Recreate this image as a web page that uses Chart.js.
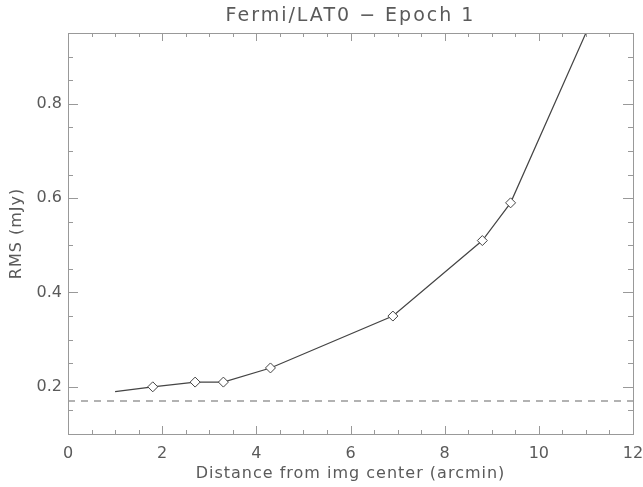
<!DOCTYPE html>
<html>
<head>
<meta charset="utf-8">
<script src="https://cdn.jsdelivr.net/npm/chart.js@4/dist/chart.umd.min.js"></script>
<style>
  body { margin: 0; background: #fff; }
  #wrap { width: 643px; height: 487px; }
</style>
</head>
<body>
<div id="wrap"><canvas id="rms" width="643" height="487"></canvas></div>
<script>
// distance from image centre (arcmin) and measured rms (mJy)
let distance = [1.0, 1.8, 2.7, 3.3, 4.3, 6.9, 8.8, 9.4, 11.0];
let rmsValues = [0.19, 0.20, 0.21, 0.21, 0.24, 0.35, 0.51, 0.59, 0.95];
let markerShown = [false, true, true, true, true, true, true, true, false];
let noiseLevel = 0.17;
let xTickLabels = [0, 2, 4, 6, 8, 10, 12];
let yTickLabels = [0.2, 0.4, 0.6, 0.8];

let textColor = '#5a5a5a';
let axisColor = '#999';
let fontName = '"DejaVu Sans", sans-serif';

let rmsPoints = distance.map(function(d, i){ return {x: d, y: rmsValues[i]}; });
let noisePoints = [{x: 0, y: noiseLevel}, {x: 12, y: noiseLevel}];

// IDL style box with inward ticks on all four sides
let boxPlugin = {
    id: 'idlBox',
    afterDraw: function(chart){
        let ctx = chart.ctx;
        let area = chart.chartArea;
        let xs = chart.scales.x;
        let ys = chart.scales.y;
        ctx.save();
        ctx.strokeStyle = axisColor;
        ctx.lineWidth = 1;
        ctx.strokeRect(area.left + 0.5, area.top + 0.5, area.right - area.left, area.bottom - area.top);

        ctx.beginPath();
        for (let v = 0; v <= 12.001; v += 0.5) {
            let px = Math.round(xs.getPixelForValue(v)) + 0.5;
            let len = (Math.abs(v / 2 - Math.round(v / 2)) < 0.01) ? 8 : 4;
            ctx.moveTo(px, area.bottom); ctx.lineTo(px, area.bottom - len);
            ctx.moveTo(px, area.top); ctx.lineTo(px, area.top + len);
        }
        for (let v = 0.1; v <= 0.951; v += 0.05) {
            let py = Math.round(ys.getPixelForValue(v)) + 0.5;
            let major = Math.abs(v / 0.2 - Math.round(v / 0.2)) < 0.01;
            let len = major ? 10 : 5;
            ctx.moveTo(area.left, py); ctx.lineTo(area.left + len, py);
            ctx.moveTo(area.right, py); ctx.lineTo(area.right - len, py);
        }
        ctx.stroke();

        ctx.fillStyle = textColor;
        ctx.textAlign = 'center';
        ctx.textBaseline = 'middle';
        ctx.letterSpacing = '2px';
        ctx.font = '19px ' + fontName;
        ctx.fillText('Fermi/LAT0 \u2212 Epoch 1', (area.left + area.right) / 2, 16);
        ctx.letterSpacing = '1px';
        ctx.font = '16px ' + fontName;
        ctx.fillText('Distance from img center (arcmin)', (area.left + area.right) / 2, 474);
        ctx.translate(17, (area.top + area.bottom) / 2);
        ctx.rotate(-Math.PI / 2);
        ctx.fillText('RMS (mJy)', 0, 0);
        ctx.restore();
    }
};

let rmsChart = new Chart(document.getElementById('rms'), {
    type: 'line',
    data: {
        datasets: [
            {
                data: rmsPoints,
                borderColor: '#444',
                borderWidth: 1.2,
                pointStyle: 'rectRot',
                pointRadius: markerShown.map(function(m){ return m ? 5 : 0; }),
                pointBackgroundColor: '#fff',
                pointBorderColor: '#444',
                pointBorderWidth: 1,
                tension: 0
            },
            {
                data: noisePoints,
                borderColor: '#666',
                borderWidth: 1.2,
                borderDash: [7, 6],
                pointRadius: 0
            }
        ]
    },
    plugins: [boxPlugin],
    options: {
        responsive: false,
        animation: false,
        devicePixelRatio: 1,
        layout: { padding: { top: 33, right: 10, left: 0, bottom: 0 } },
        plugins: { legend: { display: false }, tooltip: { enabled: false } },
        scales: {
            x: {
                type: 'linear',
                min: 0,
                max: 12,
                afterFit: function(scale){
                    scale.height = 53;
                    scale.paddingLeft = 0;
                    scale.paddingRight = 0;
                },
                afterBuildTicks: function(scale){
                    scale.ticks = xTickLabels.map(function(v){ return {value: v}; });
                },
                grid: { display: false, drawTicks: false },
                border: { display: false },
                ticks: { color: textColor, font: { family: fontName, size: 16 }, padding: 10, maxRotation: 0 }
            },
            y: {
                type: 'linear',
                min: 0.1,
                max: 0.95,
                afterFit: function(scale){
                    scale.width = 68;
                    scale.paddingTop = 0;
                    scale.paddingBottom = 0;
                },
                afterBuildTicks: function(scale){
                    scale.ticks = yTickLabels.map(function(v){ return {value: v}; });
                },
                grid: { display: false, drawTicks: false },
                border: { display: false },
                ticks: {
                    color: textColor,
                    font: { family: fontName, size: 16 },
                    padding: 6,
                    callback: function(v){ return v.toFixed(1); }
                }
            }
        }
    }
});
</script>
</body>
</html>
